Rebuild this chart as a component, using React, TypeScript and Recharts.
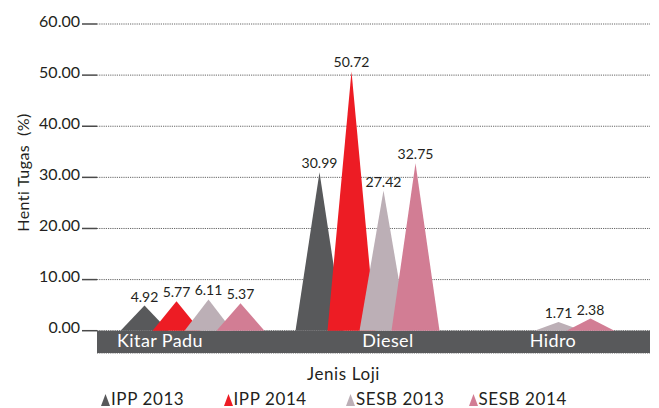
import React from 'react';
import { BarChart, Bar, XAxis, YAxis, CartesianGrid, ReferenceArea, LabelList, Legend } from 'recharts';

const categories = ['Kitar Padu', 'Diesel', 'Hidro'];
const ipp2013 = [4.92, 30.99, null];
const ipp2014 = [5.77, 50.72, null];
const sesb2013 = [6.11, 27.42, 1.71];
const sesb2014 = [5.37, 32.75, 2.38];
const yTicks = [0, 10, 20, 30, 40, 50, 60];

const seriesKeys = ['ipp2013', 'ipp2014', 'sesb2013', 'sesb2014'];
const seriesNames = ['IPP 2013', 'IPP 2014', 'SESB 2013', 'SESB 2014'];
const colors = ['#58595b', '#ed1c24', '#bcafb6', '#d27d94'];

const data = categories.map((c, i) => ({
  category: c,
  ipp2013: ipp2013[i],
  ipp2014: ipp2014[i],
  sesb2013: sesb2013[i],
  sesb2014: sesb2014[i],
}));

const FONT = "Lato, 'Open Sans', sans-serif";
const TEXT = '#231f20';
const BAND = '#58595b';
const tickDx = [-32, 21, 11];

const Triangle = (props: any) => {
  const { x, y, width, height, fill, value } = props;
  if (value == null || !height || height <= 0) return null;
  const cx = x + width / 2;
  const half = width * 0.75;
  return (
    <polygon
      points={`${cx - half},${y + height} ${cx},${y} ${cx + half},${y + height}`}
      fill={fill}
    />
  );
};

const XTick = (props: any) => {
  const { x, y, payload, index } = props;
  return (
    <text
      x={x + (tickDx[index] || 0)}
      y={y - 6}
      textAnchor="middle"
      fill="#ffffff"
      fontSize={18}
      letterSpacing={0.4}
      fontFamily={FONT}
    >
      {payload.value}
    </text>
  );
};

const YTick = (props: any) => {
  const { x, y, payload } = props;
  return (
    <text x={x} y={y + 2.7} textAnchor="end" fill={TEXT} fontSize={16} fontFamily={FONT}>
      {Number(payload.value).toFixed(2)}
    </text>
  );
};

const YLabel = (props: any) => {
  const vb = props.viewBox || { y: 24, height: 329 };
  const cx = 22;
  const cy = vb.y + vb.height / 2 - 16;
  return (
    <text
      x={cx}
      y={cy}
      transform={`rotate(-90 ${cx} ${cy})`}
      textAnchor="middle"
      dominantBaseline="central"
      fill={TEXT}
      fontSize={16}
      letterSpacing={0.4}
      fontFamily={FONT}
      style={{ whiteSpace: 'pre' }}
    >
      {'Henti Tugas  (%)'}
    </text>
  );
};

const XLabel = (props: any) => {
  const vb = props.viewBox || { x: 97, y: 353, width: 553 };
  return (
    <text
      x={vb.x + vb.width / 2 - 30}
      y={vb.y + 27}
      textAnchor="middle"
      fill={TEXT}
      fontSize={17}
      letterSpacing={0.6}
      fontFamily={FONT}
    >
      Jenis Loji
    </text>
  );
};

const LegendContent = () => (
  <div style={{ display: 'flex', paddingLeft: 101, fontFamily: FONT, fontSize: 17, lineHeight: '20px', color: TEXT, letterSpacing: 0.6 }}>
    {seriesNames.map((n, i) => (
      <div key={n} style={{ width: 122.5, display: 'flex', alignItems: 'flex-end' }}>
        <svg width={9} height={12} style={{ marginBottom: 3 }}>
          <polygon points="0,12 4.5,0 9,12" fill={colors[i]} />
        </svg>
        <span style={{ marginLeft: 1 }}>{n}</span>
      </div>
    ))}
  </div>
);

export default function App() {
  return (
    <div style={{ position: 'absolute', left: 0, top: 0, width: 659, height: 408, background: '#fff' }}>
      <BarChart
        width={659}
        height={408}
        data={data}
        margin={{ top: 24, right: 9, bottom: 0, left: 0 }}
        barGap={0}
        barSize={32}
      >
        <CartesianGrid horizontal vertical={false} stroke="#666666" strokeDasharray="1.2 1" />
        <XAxis xAxisId="band" dataKey="category" hide />
        <ReferenceArea xAxisId="band" y1={-4.36} y2={0} fill={BAND} fillOpacity={1} stroke="none" ifOverflow="visible" />
        <XAxis
          dataKey="category"
          height={55}
          padding={{ left: 7.5, right: 20.5 }}
          axisLine={false}
          tickLine={false}
          tickSize={0}
          tickMargin={0}
          tick={<XTick />}
          interval={0}
          label={(p: any) => <XLabel {...p} />}
        />
        <YAxis
          width={97}
          domain={[-4.36, 60]}
          ticks={yTicks}
          axisLine={false}
          tickLine={{ stroke: '#4a4a4a', strokeWidth: 1.5 }}
          tickSize={15}
          tickMargin={2}
          tick={<YTick />}
          interval={0}
          allowDataOverflow
          label={(p: any) => <YLabel {...p} />}
        />
        {seriesKeys.map((k, i) => (
          <Bar key={k} dataKey={k} name={seriesNames[i]} fill={colors[i]} shape={<Triangle />} isAnimationActive={false}>
            <LabelList
              dataKey={k}
              position="top"
              offset={4}
              fill={TEXT}
              fontSize={14}
              fontFamily={FONT}
              formatter={(v: any) => (v == null ? '' : Number(v).toFixed(2))}
            />
          </Bar>
        ))}
        <Legend
          layout="horizontal"
          verticalAlign="middle"
          align="center"
          content={<LegendContent />}
          wrapperStyle={{ top: 389, left: 0, width: 659, height: 20 }}
        />
      </BarChart>
    </div>
  );
}
